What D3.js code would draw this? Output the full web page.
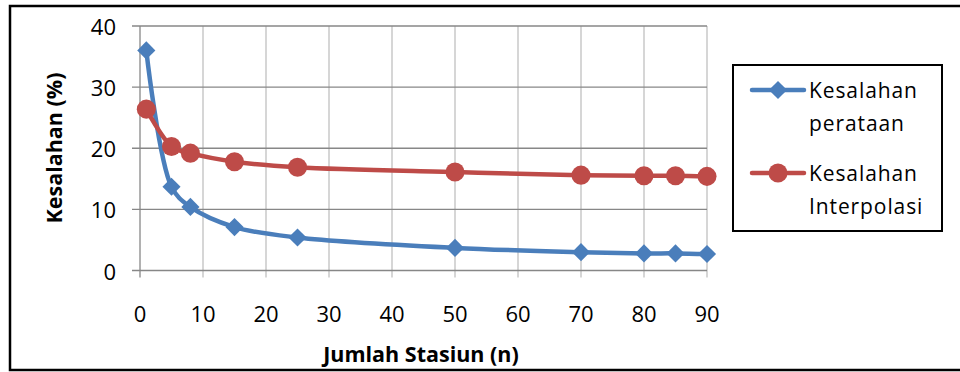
<!DOCTYPE html>
<html>
<head>
<meta charset="utf-8">
<script src="https://cdn.jsdelivr.net/npm/d3@7"></script>
<style>
  html, body { margin: 0; padding: 0; background: #fff; }
  svg { display: block; }
  text { font-family: "Open Sans", "Liberation Sans", sans-serif; fill: #000; }
</style>
</head>
<body>
<svg id="chart" width="960" height="372"></svg>
<script>
// Number of stations
const stations = [1, 5, 8, 15, 25, 50, 70, 80, 85, 90];
// Averaging error (%)
const errAveraging = [36.0, 13.7, 10.4, 7.1, 5.4, 3.7, 3.0, 2.8, 2.8, 2.7];
// Interpolation error (%)
const errInterpolation = [26.4, 20.3, 19.2, 17.8, 16.9, 16.1, 15.6, 15.5, 15.5, 15.4];
const xTicks = [0, 10, 20, 30, 40, 50, 60, 70, 80, 90];
const yTicks = [0, 10, 20, 30, 40];
const seriesNames = [["Kesalahan", "perataan"], ["Kesalahan", "Interpolasi"]];

const svg = d3.select("#chart");
const blue = "#4a7ebb", red = "#be4b48";

// chart frame
svg.append("rect")
  .attr("x", 10).attr("y", 6).attr("width", 960).attr("height", 364)
  .attr("fill", "#fff").attr("stroke", "#000").attr("stroke-width", 2.5);

const x = d3.scaleLinear().domain([0, 90]).range([140, 707]);
const y = d3.scaleLinear().domain([0, 40]).range([270.5, 26]);

// gridlines
const g = svg.append("g");
g.selectAll(".vg").data(xTicks.filter(d => d > 0)).join("line")
  .attr("x1", d => x(d)).attr("x2", d => x(d))
  .attr("y1", y(40)).attr("y2", y(0) + 7)
  .attr("stroke", "#c0c0c0").attr("stroke-width", 1.3);
g.selectAll(".hg").data(yTicks).join("line")
  .attr("x1", x(0) - 8).attr("x2", x(90))
  .attr("y1", d => y(d)).attr("y2", d => y(d))
  .attr("stroke", "#878787").attr("stroke-width", 1.3);
// y axis line
g.append("line")
  .attr("x1", x(0)).attr("x2", x(0))
  .attr("y1", y(40)).attr("y2", y(0) + 7)
  .attr("stroke", "#878787").attr("stroke-width", 1.3);

// tick labels
svg.append("g").selectAll("text").data(xTicks).join("text")
  .attr("x", d => x(d)).attr("y", 312.5)
  .attr("text-anchor", "middle").attr("dominant-baseline", "central")
  .attr("font-size", 22).text(d => d);
svg.append("g").selectAll("text").data(yTicks).join("text")
  .attr("x", 116).attr("y", d => y(d))
  .attr("text-anchor", "end").attr("dominant-baseline", "central")
  .attr("font-size", 22).text(d => d);

// axis titles
svg.append("text")
  .attr("transform", "translate(53,148) rotate(-90)")
  .attr("text-anchor", "middle").attr("dominant-baseline", "central")
  .attr("font-size", 21.5).attr("font-weight", "bold")
  .text("Kesalahan (%)");
svg.append("text")
  .attr("x", 421).attr("y", 353)
  .attr("text-anchor", "middle").attr("dominant-baseline", "central")
  .attr("font-size", 21.5).attr("font-weight", "bold")
  .text("Jumlah Stasiun (n)");

// series
const line = d3.line().curve(d3.curveCatmullRom.alpha(0.5))
  .x(d => x(d[0])).y(d => y(d[1]));
const series = [
  { values: errAveraging, color: blue, shape: d3.symbolSquare, size: 165, rot: 45 },
  { values: errInterpolation, color: red, shape: d3.symbolCircle, size: 285, rot: 0 }
];
const plot = svg.append("g");
series.forEach(s => {
  const pts = stations.map((n, i) => [n, s.values[i]]);
  plot.append("path").datum(pts)
    .attr("d", line).attr("fill", "none")
    .attr("stroke", s.color).attr("stroke-width", 4.5)
    .attr("stroke-linejoin", "round").attr("stroke-linecap", "round");
});
series.forEach(s => {
  const pts = stations.map((n, i) => [n, s.values[i]]);
  plot.append("g").selectAll("path").data(pts).join("path")
    .attr("transform", d => `translate(${x(d[0])},${y(d[1])}) rotate(${s.rot})`)
    .attr("d", d3.symbol().type(s.shape).size(s.size))
    .attr("fill", s.color);
});

// legend
const lg = svg.append("g");
lg.append("rect")
  .attr("x", 733).attr("y", 65).attr("width", 209).attr("height", 166)
  .attr("fill", "#fff").attr("stroke", "#000").attr("stroke-width", 2);
const legendY = [90, 173];
series.forEach((s, i) => {
  const yy = legendY[i];
  lg.append("line")
    .attr("x1", 752).attr("x2", 804).attr("y1", yy).attr("y2", yy)
    .attr("stroke", s.color).attr("stroke-width", 4.5).attr("stroke-linecap", "round");
  lg.append("path")
    .attr("transform", `translate(778,${yy}) rotate(${s.rot})`)
    .attr("d", d3.symbol().type(s.shape).size(s.size))
    .attr("fill", s.color);
  seriesNames[i].forEach((t, j) => {
    lg.append("text")
      .attr("x", 809).attr("y", yy + j * 33)
      .attr("dominant-baseline", "central")
      .attr("font-size", 21).attr("letter-spacing", 0.9)
      .text(t);
  });
});
</script>
</body>
</html>
